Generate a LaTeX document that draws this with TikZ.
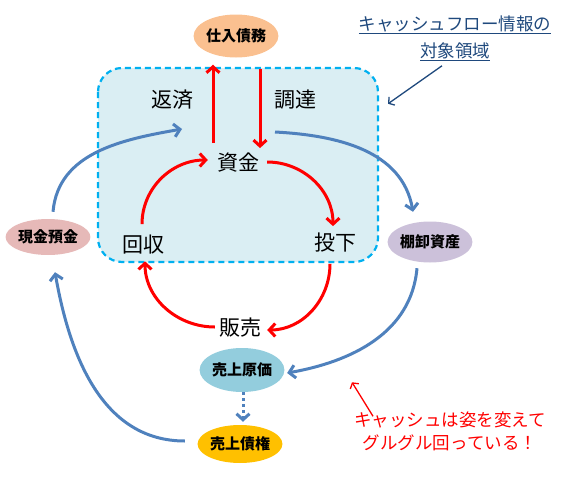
\documentclass[tikz,border=0pt]{standalone}
\usepackage{fontspec}
\setmainfont{Noto Sans CJK JP}
\usetikzlibrary{shapes.geometric,arrows.meta,positioning}
\definecolor{boxfill}{RGB}{218,238,243}
\definecolor{boxline}{RGB}{0,176,240}
\definecolor{flowblue}{RGB}{79,129,189}
\definecolor{notenavy}{RGB}{31,73,125}
\definecolor{debtfill}{RGB}{250,192,144}
\definecolor{cashfill}{RGB}{230,185,184}
\definecolor{stockfill}{RGB}{204,193,218}
\definecolor{costfill}{RGB}{147,205,221}
\definecolor{credfill}{RGB}{255,192,0}
\tikzstyle{account} = [ellipse, inner sep=0pt,
    font=\bfseries\fontsize{15}{15}\selectfont]
\tikzstyle{stage} = [inner sep=0pt, font=\fontsize{21}{21}\selectfont]
\tikzstyle{redflow} = [draw=red, line width=3pt,
    -{Straight Barb[length=6pt,width=13pt]}]
\tikzstyle{blueflow} = [draw=flowblue, line width=3pt,
    -{Straight Barb[length=6pt,width=13pt]}]
\tikzstyle{remarkline} = [draw, line width=1.3pt,
    -{Straight Barb[length=4pt,width=10pt]}]

\begin{document}
\begin{tikzpicture}[x=1pt,y=1pt]
    \useasboundingbox (0,0) rectangle (568,-479);

    % the target area of the cash flow information
    \path[fill=boxfill, draw=boxline, line width=2.2pt,
        dash pattern=on 6pt off 4pt, rounded corners=24pt]
        (98,-68) rectangle (378,-262);

    \node (shiire) [account, fill=debtfill, minimum width=68pt, minimum height=43pt] at (236,-36) {仕入債務};
    \node (genkin) [account, fill=cashfill, minimum width=70pt, minimum height=36pt] at (48,-237) {現金預金};
    \node (tanaoroshi) [account, fill=stockfill, minimum width=74pt, minimum height=41pt] at (430,-242) {棚卸資産};
    \node (genka) [account, fill=costfill, minimum width=75pt, minimum height=44pt] at (242,-370) {売上原価};
    \node (saiken) [account, fill=credfill, minimum width=75pt, minimum height=38pt] at (240,-444) {売上債権};

    \node (shikin) [stage] at (238,-163) {資金};
    \node (kaishu) [stage] at (143,-245) {回収};
    \node (touka) [stage] at (335,-243) {投下};
    \node (hanbai) [stage] at (240,-328) {販売};
    \node (hensai) [stage] at (172,-100) {返済};
    \node (chotatsu) [stage] at (295,-100) {調達};

    % red cycle of cash
    \path [redflow] ([xshift=-25pt,yshift=10pt]shikin.north) -- ([xshift=-23pt,yshift=-7pt]shiire.south);
    \path [redflow] ([xshift=24pt,yshift=-11pt]shiire.south) -- ([xshift=22pt,yshift=5pt]shikin.north);
    \path [redflow] ([xshift=-1pt,yshift=11pt]kaishu.north) to[out=90,in=180] ([xshift=-9pt,yshift=3pt]shikin.west);
    \path [redflow] ([xshift=8pt,yshift=1pt]shikin.east) to[out=0,in=90] ([xshift=-2pt,yshift=7pt]touka.north);
    \path [redflow] ([xshift=-5pt,yshift=-11pt]touka.south) to[out=-90,in=0] ([xshift=6pt,yshift=-2pt]hanbai.east);
    \path [redflow] ([xshift=-4pt,yshift=1pt]hanbai.west) to[out=180,in=-90] ([xshift=2pt,yshift=-6.5pt]kaishu.south);

    % blue cycle of accounts
    \path [blueflow] ([xshift=5pt,yshift=7pt]genkin.north) to[out=85,in=190] ([xshift=-56pt,yshift=34pt]shikin.center);
    \path [blueflow] ([xshift=37pt,yshift=31pt]shikin.center) to[out=-3,in=100] ([xshift=-17pt,yshift=9.5pt]tanaoroshi.north);
    \path [blueflow] ([xshift=-13pt,yshift=-5.5pt]tanaoroshi.south) to[out=-95,in=10] ([xshift=2.5pt,yshift=-3pt]genka.east);
    \path [blueflow] ([xshift=-12.5pt,yshift=3pt]saiken.west) to[out=180,in=-80] ([xshift=7pt,yshift=-17pt]genkin.south);
    \path [blueflow, dash pattern=on 3pt off 3pt] ([xshift=1pt]genka.south) -- ([xshift=1pt,yshift=3pt]genka.south |- saiken.north);

    % notes
    \node (note) [text=notenavy, align=center, inner sep=0pt,
        font=\fontsize{17.5}{27}\selectfont] at (455,-38) {\underline{キャッシュフロー情報の}\\\underline{対象領域}};
    \path [remarkline, draw=notenavy] ([xshift=-13pt,yshift=-5pt]note.south) -- ([xshift=-67pt,yshift=-43pt]note.south);

    \node (remark) [text=red, align=center, inner sep=0pt,
        font=\fontsize{17.5}{23}\selectfont] at (450,-431) {キャッシュは姿を変えて\\グルグル回っている！};
    \path [remarkline, draw=red] ([xshift=-77pt,yshift=-5pt]remark.north) -- ([xshift=-98pt,yshift=29pt]remark.north);
\end{tikzpicture}
\end{document}
